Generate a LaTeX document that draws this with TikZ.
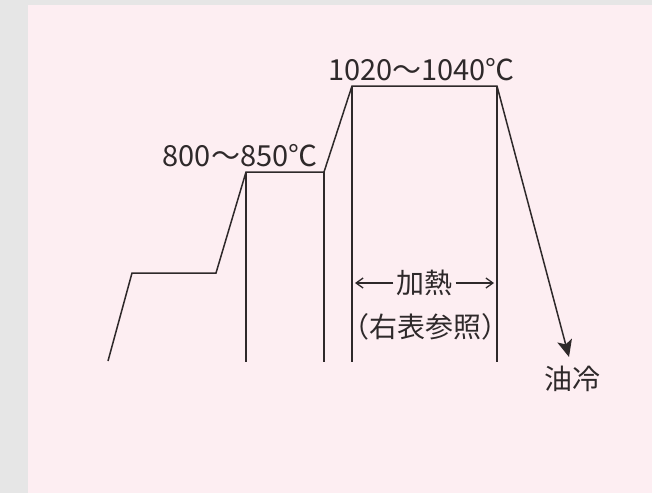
\documentclass[tikz,border=0pt]{standalone}
\usepackage{fontspec}
\setmainfont{Noto Sans CJK JP}
\usetikzlibrary{arrows.meta}
\definecolor{bgpink}{HTML}{FDEEF2}
\definecolor{bggrey}{HTML}{E6E6E6}
\definecolor{ink}{HTML}{2E292A}
\begin{document}
\begin{tikzpicture}[x=1pt,y=-1pt,
  curve/.style={draw=ink, line width=1.5pt, line join=miter},
  lbl/.style={text=ink, inner sep=0pt, font=\fontsize{29}{32}\selectfont},
  jlbl/.style={text=ink, inner sep=0pt, font=\fontsize{28}{32}\selectfont},
  heatarrow/.style={draw=ink, line width=1.3pt, -{Straight Barb[length=7pt,width=10pt]}}]
\fill[bggrey] (0,0) rectangle (652,493);
\fill[bgpink] (28,5) rectangle (652,493);
\useasboundingbox (0,0) rectangle (652,493);
% profile points
\coordinate (s0) at (108,361);
\coordinate (s1) at (132,273);
\coordinate (s2) at (216,273);
\coordinate (a1) at (246,172);
\coordinate (a2) at (324,172);
\coordinate (b1) at (352,86);
\coordinate (b2) at (497,86);
\coordinate (oil) at (569,357);
\coordinate (a1b) at (246,362);
\coordinate (a2b) at (324,362);
\coordinate (b1b) at (352,362);
\coordinate (b2b) at (497,362);
\draw[curve, -{Stealth[length=17pt,width=15pt,inset=4pt]}] (s0) -- (s1) -- (s2) -- (a1) -- (a2) -- (b1) -- (b2) -- (oil);
\draw[curve] (a1) -- (a1b);
\draw[curve] (a2) -- (a2b);
\draw[curve] (b1) -- (b1b);
\draw[curve] (b2) -- (b2b);
% labels
\node[lbl] (t1) at (421.5,69.5) {1020～1040℃};
\node[lbl] (t2) at (240,155.5) {800～850℃};
\node[jlbl] (heat) at (424.5,283) {加熱};
\node[jlbl] (ref) at (425,327) {（右表参照）};
\node[jlbl] (cool) at (572.5,379) {油冷};
\coordinate (hl) at (355,283);
\coordinate (hr) at (494,283);
\draw[heatarrow] ([xshift=-3pt]heat.west) -- (hl);
\draw[heatarrow] ([xshift=3pt]heat.east) -- (hr);
\end{tikzpicture}
\end{document}
